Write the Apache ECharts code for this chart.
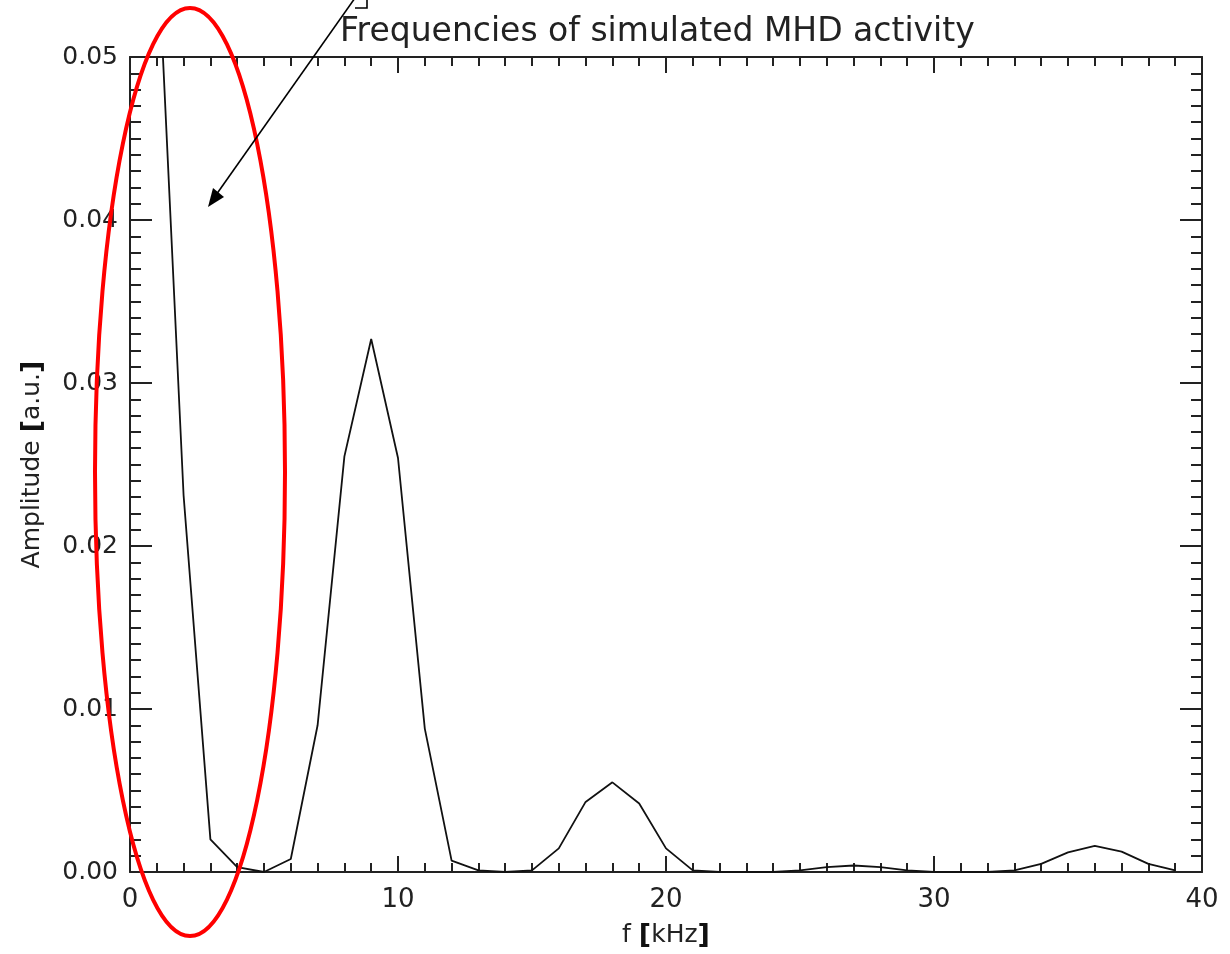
<!DOCTYPE html>
<html>
<head>
<meta charset="utf-8">
<script src="https://cdn.jsdelivr.net/npm/echarts@6/dist/echarts.min.js"></script>
<style>html,body{margin:0;padding:0;background:#fff}#c{width:1230px;height:954px}</style>
</head>
<body>
<div id="c"></div>
<script>
// Frequencies (kHz), sampled every 1 kHz
const freq = [0,1,2,3,4,5,6,7,8,9,10,11,12,13,14,15,16,17,18,19,20,21,22,23,24,25,26,27,28,29,30,31,32,33,34,35,36,37,38,39];
// Amplitude [a.u.]
const amplitude = [0.080,0.058,0.0231,0.0020,0.0003,0.0000,0.0008,0.0090,0.0255,0.0327,0.0254,0.0088,0.0007,0.0001,0.0000,0.0001,0.00145,0.0043,0.0055,0.0042,0.00145,0.0001,0.0000,0.0000,0.0000,0.0001,0.0003,0.0004,0.0003,0.0001,0.0000,0.0000,0.0000,0.0001,0.0005,0.0012,0.0016,0.00125,0.0005,0.0001];
const titleText = 'Frequencies of simulated MHD activity';
const xTicks = [0,10,20,30,40];
const yTicks = [0.00,0.01,0.02,0.03,0.04,0.05];

const chart = echarts.init(document.getElementById('c'), null, {renderer:'canvas'});
const font = 'DejaVu Sans';
const axColor = '#222';
const seriesData = freq.map((f,i)=>[f, amplitude[i]]);

const baseX = {
  type:'value', min:xTicks[0], max:xTicks[xTicks.length-1], interval:10,
  axisLine:{show:true, onZero:false, lineStyle:{color:axColor, width:2}},
  axisTick:{show:true, inside:true, length:16, lineStyle:{color:axColor, width:2}},
  minorTick:{show:true, splitNumber:10, length:9, lineStyle:{color:axColor, width:2}},
  splitLine:{show:false}
};
const baseY = {
  type:'value', min:yTicks[0], max:yTicks[yTicks.length-1], interval:0.01,
  axisLine:{show:true, onZero:false, lineStyle:{color:axColor, width:2}},
  axisTick:{show:true, inside:true, length:22, lineStyle:{color:axColor, width:2}},
  minorTick:{show:true, splitNumber:10, length:11, lineStyle:{color:axColor, width:2}},
  splitLine:{show:false}
};

chart.setOption({
  animation:false,
  backgroundColor:'#fff',
  title:{text:titleText, left:340, top:16, textStyle:{fontFamily:font, fontSize:33, fontWeight:'normal', color:'#222'}, padding:0},
  grid:{left:130, right:28, top:57, bottom:82, containLabel:false, outerBoundsMode:'none'},
  xAxis:[
    Object.assign({}, baseX, {position:'bottom',
      name:'f {b|[}kHz{b|]}', nameLocation:'middle', nameGap:50, nameMoveOverlap:false,
      nameTextStyle:{fontFamily:font, fontSize:25, color:'#222', rich:{b:{fontFamily:font, fontSize:27, fontWeight:'bold', color:'#111'}}},
      axisLabel:{show:true, margin:15, fontFamily:font, fontSize:26, color:'#222', formatter:v=>String(v)}}),
    Object.assign({}, baseX, {position:'top', axisLabel:{show:false}})
  ],
  yAxis:[
    Object.assign({}, baseY, {position:'left',
      name:'Amplitude {b|[}a.u.{b|]}', nameLocation:'middle', nameGap:84, nameRotate:90, nameMoveOverlap:false,
      nameTextStyle:{fontFamily:font, fontSize:25, color:'#222', rich:{b:{fontFamily:font, fontSize:27, fontWeight:'bold', color:'#111'}}},
      axisLabel:{show:true, margin:12, fontFamily:font, fontSize:25, color:'#222', formatter:v=>v.toFixed(2)}}),
    Object.assign({}, baseY, {position:'right', axisLabel:{show:false}})
  ],
  series:[{
    type:'line', data:seriesData, xAxisIndex:0, yAxisIndex:0,
    showSymbol:false, clip:true, smooth:false,
    lineStyle:{color:'#111', width:1.8}
  }],
  graphic:[
    {type:'ellipse', shape:{cx:190, cy:472, rx:95, ry:464}, style:{fill:'none', stroke:'#ff0000', lineWidth:4}, z:100},
    {type:'line', shape:{x1:355, y1:-2, x2:216, y2:195}, style:{stroke:'#000', lineWidth:1.6}, z:100},
    {type:'polygon', shape:{points:[[208,207],[224,197],[213,188]]}, style:{fill:'#000'}, z:100},
    {type:'polyline', shape:{points:[[355,8],[367,8],[367,0]]}, style:{stroke:'#000', lineWidth:1.6, fill:'none'}, z:100}
  ]
});
</script>
</body>
</html>
